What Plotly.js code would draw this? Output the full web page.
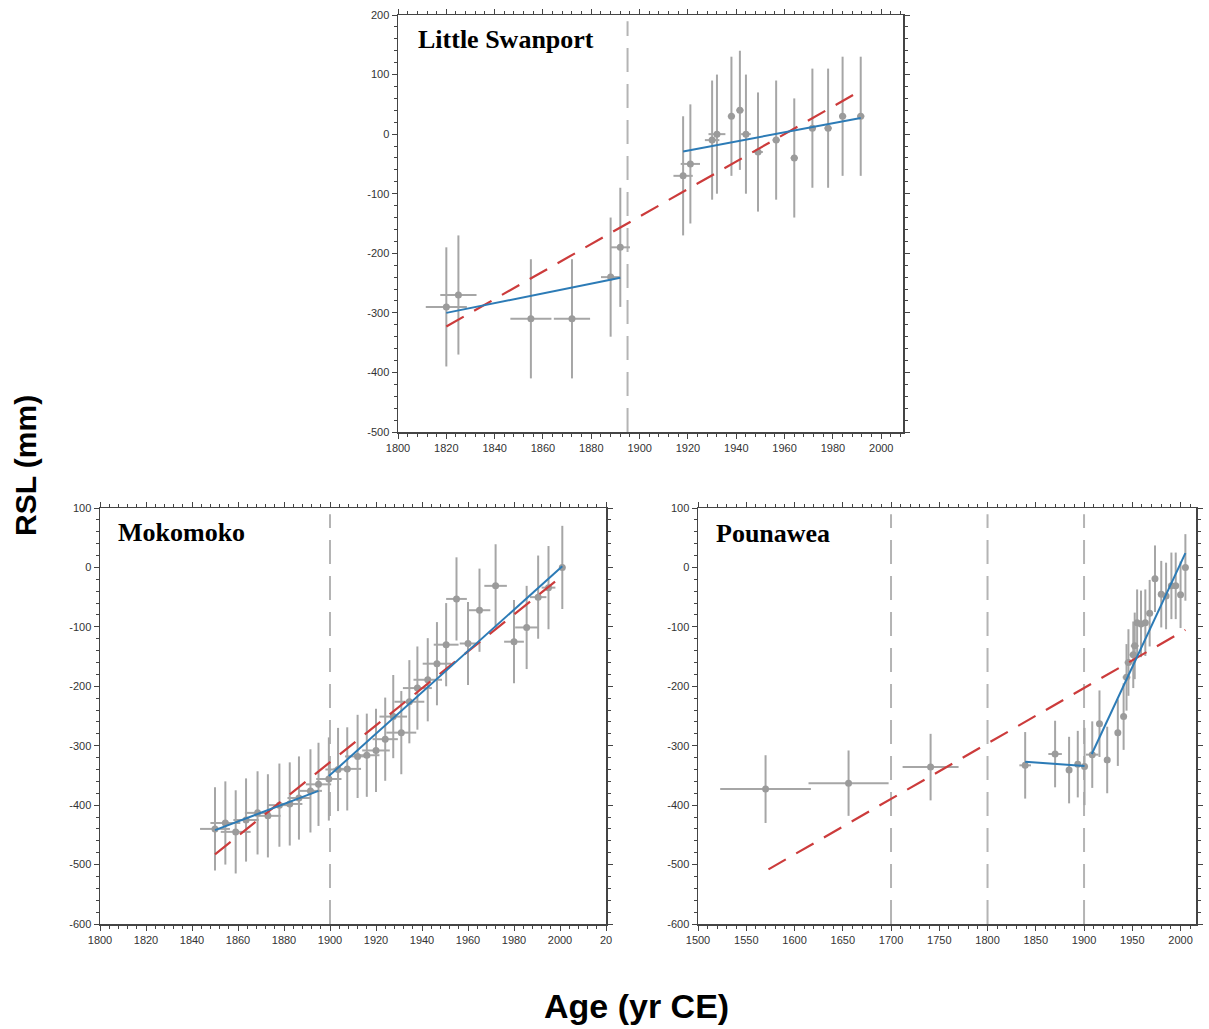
<!DOCTYPE html>
<html>
<head>
<meta charset="utf-8">
<script src="https://cdn.plot.ly/plotly-3.0.1.min.js"></script>
<style>
  html, body { margin: 0; padding: 0; background: #ffffff; }
  #chart { width: 1209px; height: 1029px; }
</style>
</head>
<body>
<div id="chart"></div>
<script>
// ---- Little Swanport ----
const swanportAge = [1820, 1825, 1855, 1872, 1888, 1892, 1918, 1921, 1930, 1932, 1938, 1941.5, 1944, 1949, 1956.5, 1964, 1971.5, 1978, 1984, 1991.5];
const swanportRSL = [-290, -270, -310, -310, -240, -190, -70, -50, -10, 0, 30, 40, 0, -30, -10, -40, 10, 10, 30, 30];
const swanportAgeErr = [8.5, 7.5, 8.5, 7.5, 4, 4, 4, 4, 3, 3.5, 1.5, 1.5, 2, 2, 1.5, 1.5, 1.5, 1.5, 1.5, 1.5];
const swanportRSLErr = [100, 100, 100, 100, 100, 100, 100, 100, 100, 100, 100, 100, 100, 100, 100, 100, 100, 100, 100, 100];
const swanportFitAge = [1820, 1892, null, 1918, 1991.5];
const swanportFitRSL = [-300, -241, null, -29, 27];
const swanportTrendAge = [1820, 1991.5];
const swanportTrendRSL = [-323, 73];
const swanportBreaks = [1895];

// ---- Mokomoko ----
const mokoAge = [1850, 1854.5, 1859, 1863.5, 1868.5, 1873, 1878, 1882.5, 1886.5, 1891.5, 1895, 1899.5, 1903.5, 1907.5, 1912, 1916, 1920, 1924, 1927.5, 1931, 1934.5, 1938, 1942.5, 1946.5, 1950.5, 1955, 1960, 1965, 1972, 1980, 1985.5, 1990.5, 1995, 2001];
const mokoRSL = [-440, -430, -445, -425, -413, -418, -400, -398, -388, -376, -365, -356, -340, -339, -318, -316, -308, -289, -251, -278, -226, -203, -189, -162, -130, -53, -128, -72, -31, -125, -101, -50, -34, 0];
const mokoAgeErr = [6.5, 6.5, 6.5, 5.5, 5.5, 5.5, 5, 5.5, 5, 5, 5.5, 5.5, 5.5, 6, 5.5, 5.5, 6, 5.5, 6, 6.5, 6.5, 6.3, 6.2, 6.2, 5.4, 4.5, 3.6, 4.7, 4.9, 4.3, 5, 3.6, 3, 1];
const mokoRSLErr = [70, 70, 70, 70, 70, 70, 70, 70, 70, 70, 70, 70, 70, 70, 70, 70, 70, 70, 70, 70, 70, 70, 70, 70, 70, 70, 70, 70, 70, 70, 70, 70, 70, 70];
const mokoFitAge = [1850, 1895, null, 1899.5, 2001];
const mokoFitRSL = [-442, -376, null, -351, 2];
const mokoTrendAge = [1850, 2001];
const mokoTrendRSL = [-483, -14];
const mokoBreaks = [1900];

// ---- Pounawea ----
const pounaAge = [1570, 1656, 1741, 1839, 1870, 1884.5, 1893.5, 1900.5, 1908.5, 1916, 1924, 1935, 1941, 1944, 1946, 1951, 1952.5, 1955, 1959, 1963.5, 1968, 1973.5, 1980, 1985, 1990.5, 1995, 2000, 2005];
const pounaRSL = [-373, -363, -336, -333, -314, -341, -331, -335, -315, -263, -324, -278, -251, -185, -160, -147, -132, -93, -95, -93, -77, -19, -45, -48, -31, -31, -46, 0];
const pounaAgeErr = [47, 41.5, 29, 6, 7, 1.5, 1.5, 1.5, 6.5, 1.5, 1.5, 1.5, 1.5, 4, 4, 4, 4, 3, 3, 3, 1.5, 1.5, 1.5, 1.5, 1.5, 1.5, 1.5, 1.5];
const pounaRSLErr = [57, 55, 56, 56, 56, 56, 56, 65, 56, 56, 56, 56, 56, 56, 56, 56, 56, 56, 56, 56, 56, 56, 56, 56, 56, 56, 56, 56];
const pounaFitAge = [1839, 1900.5, null, 1908, 2005];
const pounaFitRSL = [-327, -334, null, -314, 24];
const pounaTrendAge = [1573, 2005];
const pounaTrendRSL = [-508, -105];
const pounaBreaks = [1700, 1800, 1900];

// ---- tick labels ----
const swanportYearTicks = [1800, 1820, 1840, 1860, 1880, 1900, 1920, 1940, 1960, 1980, 2000];
const swanportYearLabels = ['1800', '1820', '1840', '1860', '1880', '1900', '1920', '1940', '1960', '1980', '2000'];
const mokoYearTicks = [1800, 1820, 1840, 1860, 1880, 1900, 1920, 1940, 1960, 1980, 2000, 2020];
const mokoYearLabels = ['1800', '1820', '1840', '1860', '1880', '1900', '1920', '1940', '1960', '1980', '2000', '20'];
const pounaYearTicks = [1500, 1550, 1600, 1650, 1700, 1750, 1800, 1850, 1900, 1950, 2000];
const pounaYearLabels = ['1500', '1550', '1600', '1650', '1700', '1750', '1800', '1850', '1900', '1950', '2000'];
const swanportRSLTicks = [200, 100, 0, -100, -200, -300, -400, -500];
const swanportRSLLabels = ['200', '100', '0', '-100', '-200', '-300', '-400', '-500'];
const lowerRSLTicks = [100, 0, -100, -200, -300, -400, -500, -600];
const lowerRSLLabels = ['100', '0', '-100', '-200', '-300', '-400', '-500', '-600'];

// ---- styling ----
const POINT_GREY = '#9b9b9b';
const BAR_GREY = '#a6a6a6';
const FIT_BLUE = '#2c7bb6';
const TREND_RED = '#cc3b3b';
const BREAK_GREY = '#b4b4b4';
const AXIS_COL = '#444444';
const LABEL_COL = '#333333';

function pointsTrace(ages, rsl, ageErr, rslErr, xa, ya) {
  return {
    type: 'scatter', mode: 'markers', x: ages, y: rsl, xaxis: xa, yaxis: ya,
    marker: { color: POINT_GREY, size: 7, symbol: 'circle' },
    error_x: { type: 'data', array: ageErr, visible: true, color: BAR_GREY, thickness: 2, width: 0 },
    error_y: { type: 'data', array: rslErr, visible: true, color: BAR_GREY, thickness: 2, width: 0 },
    hoverinfo: 'x+y', showlegend: false
  };
}
function trendTrace(ages, rsl, xa, ya) {
  return {
    type: 'scatter', mode: 'lines', x: ages, y: rsl, xaxis: xa, yaxis: ya,
    line: { color: TREND_RED, width: 2.2, dash: '20px,12px' }, showlegend: false
  };
}
function fitTrace(ages, rsl, xa, ya) {
  return {
    type: 'scatter', mode: 'lines', x: ages, y: rsl, xaxis: xa, yaxis: ya,
    line: { color: FIT_BLUE, width: 2 }, connectgaps: false, showlegend: false
  };
}

const data = [
  pointsTrace(swanportAge, swanportRSL, swanportAgeErr, swanportRSLErr, 'x', 'y'),
  trendTrace(swanportTrendAge, swanportTrendRSL, 'x', 'y'),
  fitTrace(swanportFitAge, swanportFitRSL, 'x', 'y'),
  pointsTrace(mokoAge, mokoRSL, mokoAgeErr, mokoRSLErr, 'x2', 'y2'),
  trendTrace(mokoTrendAge, mokoTrendRSL, 'x2', 'y2'),
  fitTrace(mokoFitAge, mokoFitRSL, 'x2', 'y2'),
  pointsTrace(pounaAge, pounaRSL, pounaAgeErr, pounaRSLErr, 'x3', 'y3'),
  trendTrace(pounaTrendAge, pounaTrendRSL, 'x3', 'y3'),
  fitTrace(pounaFitAge, pounaFitRSL, 'x3', 'y3')
];

const tickFont = { family: 'Liberation Sans, Arial, sans-serif', size: 11, color: LABEL_COL };

function xAxis(domain, range, ticks, labels, minorStep, anchor) {
  return {
    domain: domain, range: range, anchor: anchor,
    tickmode: 'array', tickvals: ticks, ticktext: labels,
    ticks: 'outside', ticklen: 5, tickwidth: 1, tickcolor: AXIS_COL,
    minor: { dtick: minorStep, tick0: ticks[0], ticks: 'outside', ticklen: 3, tickcolor: AXIS_COL, showgrid: false },
    showline: true, linecolor: AXIS_COL, linewidth: 1.5, mirror: 'ticks',
    showgrid: false, zeroline: false, tickfont: tickFont, color: LABEL_COL
  };
}
function yAxis(domain, range, ticks, labels, anchor) {
  return {
    domain: domain, range: range, anchor: anchor,
    tickmode: 'array', tickvals: ticks, ticktext: labels,
    ticks: 'outside', ticklen: 5, tickwidth: 1, tickcolor: AXIS_COL,
    minor: { dtick: 20, tick0: 0, ticks: 'outside', ticklen: 3, tickcolor: AXIS_COL, showgrid: false },
    showline: true, linecolor: AXIS_COL, linewidth: 1.5, mirror: 'ticks',
    showgrid: false, zeroline: false, tickfont: tickFont, color: LABEL_COL
  };
}

function breakShapes(years, xa, ya) {
  return years.map(function (yr) {
    return {
      type: 'line', xref: xa, yref: ya + ' domain', x0: yr, x1: yr, y0: 0, y1: 0.985,
      line: { color: BREAK_GREY, width: 2, dash: '24px,12px' }, layer: 'below'
    };
  });
}

const W = 1209, H = 1029;
const px = function (v) { return v / W; };
const py = function (v) { return 1 - v / H; };

const siteFont = { family: 'Liberation Serif, Times New Roman, serif', size: 26, color: '#000000' };

const layout = {
  width: W, height: H, autosize: false,
  margin: { l: 0, r: 0, t: 0, b: 0 },
  paper_bgcolor: '#ffffff', plot_bgcolor: '#ffffff',
  font: { family: 'Liberation Sans, Arial, sans-serif', color: LABEL_COL },
  showlegend: false,
  xaxis: xAxis([px(398), px(903)], [1800, 2009], swanportYearTicks, swanportYearLabels, 4, 'y'),
  yaxis: yAxis([py(432), py(15)], [-500, 200], swanportRSLTicks, swanportRSLLabels, 'x'),
  xaxis2: xAxis([px(100), px(606)], [1800, 2020], mokoYearTicks, mokoYearLabels, 4, 'y2'),
  yaxis2: yAxis([py(924), py(508)], [-600, 100], lowerRSLTicks, lowerRSLLabels, 'x2'),
  xaxis3: xAxis([px(698), px(1196)], [1500, 2016], pounaYearTicks, pounaYearLabels, 10, 'y3'),
  yaxis3: yAxis([py(924), py(508)], [-600, 100], lowerRSLTicks, lowerRSLLabels, 'x3'),
  shapes: [].concat(
    breakShapes(swanportBreaks, 'x', 'y'),
    breakShapes(mokoBreaks, 'x2', 'y2'),
    breakShapes(pounaBreaks, 'x3', 'y3')
  ),
  annotations: [
    { text: '<b>Little Swanport</b>', xref: 'paper', yref: 'paper', x: px(416), y: py(40),
      xanchor: 'left', yanchor: 'middle', showarrow: false, font: siteFont },
    { text: '<b>Mokomoko</b>', xref: 'paper', yref: 'paper', x: px(116), y: py(532),
      xanchor: 'left', yanchor: 'middle', showarrow: false, font: siteFont },
    { text: '<b>Pounawea</b>', xref: 'paper', yref: 'paper', x: px(714), y: py(533),
      xanchor: 'left', yanchor: 'middle', showarrow: false, font: siteFont },
    { text: '<b>RSL (mm)</b>', xref: 'paper', yref: 'paper', x: px(26), y: py(466),
      xanchor: 'center', yanchor: 'middle', textangle: -90, showarrow: false,
      font: { family: 'Liberation Sans, Arial, sans-serif', size: 30, color: '#000000' } },
    { text: '<b>Age (yr CE)</b>', xref: 'paper', yref: 'paper', x: px(636), y: py(1006),
      xanchor: 'center', yanchor: 'middle', showarrow: false,
      font: { family: 'Liberation Sans, Arial, sans-serif', size: 34, color: '#000000' } }
  ]
};

Plotly.newPlot('chart', data, layout, { displayModeBar: false, staticPlot: true });
</script>
</body>
</html>
